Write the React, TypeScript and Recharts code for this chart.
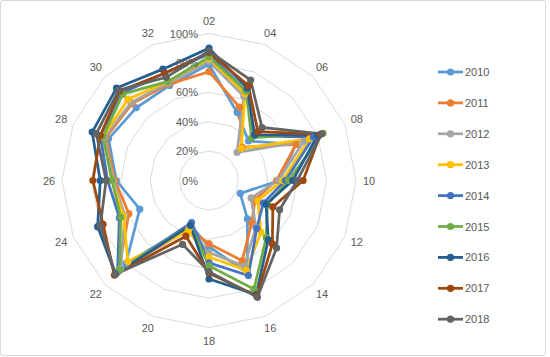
import React from 'react';
import { RadarChart, Radar, PolarGrid, PolarAngleAxis, PolarRadiusAxis, Legend } from 'recharts';

const categories = ['02', '04', '06', '08', '10', '12', '14', '16', '18', '20', '22', '24', '26', '28', '30', '32'];
const years = ['2010', '2011', '2012', '2013', '2014', '2015', '2016', '2017', '2018'];
const colors = ['#5B9BD5', '#ED7D31', '#A5A5A5', '#FFC000', '#4472C4', '#70AD47', '#255E91', '#9E480E', '#636363'];
const radiusTicks = [0, 0.2, 0.4, 0.6, 0.8, 1];

const v2010 = [0.79, 0.50, 0.38, 0.64, 0.48, 0.23, 0.37, 0.68, 0.45, 0.33, 0.80, 0.51, 0.63, 0.74, 0.70, 0.70];
const v2011 = [0.74, 0.54, 0.32, 0.64, 0.46, 0.34, 0.41, 0.59, 0.43, 0.36, 0.87, 0.59, 0.64, 0.76, 0.74, 0.71];
const v2012 = [0.81, 0.62, 0.27, 0.70, 0.47, 0.31, 0.45, 0.63, 0.49, 0.35, 0.85, 0.62, 0.65, 0.77, 0.75, 0.72];
const v2013 = [0.83, 0.64, 0.31, 0.74, 0.50, 0.36, 0.50, 0.66, 0.52, 0.37, 0.78, 0.63, 0.66, 0.78, 0.78, 0.73];
const v2014 = [0.86, 0.66, 0.43, 0.77, 0.52, 0.40, 0.46, 0.70, 0.56, 0.31, 0.88, 0.66, 0.69, 0.80, 0.84, 0.79];
const v2015 = [0.84, 0.66, 0.41, 0.84, 0.54, 0.43, 0.55, 0.80, 0.58, 0.33, 0.86, 0.65, 0.66, 0.78, 0.83, 0.73];
const v2016 = [0.90, 0.68, 0.44, 0.80, 0.57, 0.42, 0.57, 0.84, 0.67, 0.33, 0.90, 0.82, 0.74, 0.86, 0.89, 0.82];
const v2017 = [0.87, 0.70, 0.47, 0.82, 0.64, 0.47, 0.61, 0.85, 0.63, 0.41, 0.91, 0.78, 0.79, 0.80, 0.86, 0.79];
const v2018 = [0.88, 0.74, 0.51, 0.83, 0.60, 0.52, 0.65, 0.86, 0.62, 0.47, 0.90, 0.80, 0.70, 0.83, 0.87, 0.76];

const seriesValues = [v2010, v2011, v2012, v2013, v2014, v2015, v2016, v2017, v2018];

const data = categories.map((c, i) => {
  const row: Record<string, any> = { cat: c };
  years.forEach((y, k) => {
    row[y] = seriesValues[k][i];
  });
  return row;
});

const CX = 209;
const CY = 180.5;
const R = 147;
const FONT = '"Liberation Sans", Arial, sans-serif';
const TEXT = '#595959';

const AngleTick = (props: any) => {
  const { payload } = props;
  const ang = (payload.coordinate * Math.PI) / 180;
  const r = R + 13;
  const x = CX + r * Math.cos(-ang);
  const y = CY + r * Math.sin(-ang);
  return (
    <text x={x} y={y} textAnchor="middle" dominantBaseline="central" fontSize={11} fontFamily={FONT} fill={TEXT}>
      {payload.value}
    </text>
  );
};

const RadiusTick = (props: any) => {
  const { x, y, payload } = props;
  return (
    <text x={x - 11} y={y} textAnchor="end" dominantBaseline="central" fontSize={11} fontFamily={FONT} fill={TEXT}>
      {Math.round(payload.value * 100) + '%'}
    </text>
  );
};

const makeDot = (color: string) => (p: any) => (
  <circle key={`d-${color}-${p.index}`} cx={p.cx} cy={p.cy} r={3.6} fill={color} stroke="none" />
);

const LegendContent = () => (
  <svg width={90} height={280}>
    {years.map((y, i) => {
      const yy = 12 + i * 30.9;
      return (
        <g key={y}>
          <line x1={2} x2={27} y1={yy} y2={yy} stroke={colors[i]} strokeWidth={2.75} />
          <circle cx={14.5} cy={yy} r={3.6} fill={colors[i]} />
          <text x={29} y={yy} dominantBaseline="central" fontSize={11} fontFamily={FONT} fill={TEXT}>
            {y}
          </text>
        </g>
      );
    })}
  </svg>
);

export default function App() {
  return (
    <div style={{ position: 'absolute', left: 0, top: 0, width: 550, height: 357, background: '#fff' }}>
      <div
        style={{
          position: 'absolute',
          left: 0,
          top: 0,
          width: 544,
          height: 354,
          border: '1px solid #D9D9D9',
          borderRadius: 3,
        }}
      />
      <RadarChart width={550} height={357} data={data} cx={CX} cy={CY} outerRadius={R} startAngle={90} endAngle={-270}>
        <PolarGrid gridType="polygon" radialLines={false} stroke="#D9D9D9" strokeWidth={1} />
        <PolarAngleAxis dataKey="cat" tick={AngleTick} axisLine={false} tickLine={false} />
        <PolarRadiusAxis
          angle={90}
          domain={[0, 1]}
          ticks={radiusTicks}
          tick={RadiusTick}
          axisLine={false}
          tickLine={false}
        />
        {years.map((y, i) => (
          <Radar
            key={y}
            name={y}
            dataKey={y}
            stroke={colors[i]}
            strokeWidth={2.75}
            fill="none"
            fillOpacity={0}
            dot={makeDot(colors[i])}
            isAnimationActive={false}
          />
        ))}
        <Legend
          content={LegendContent}
          wrapperStyle={{ position: 'absolute', left: 436, top: 60, width: 90, height: 280 }}
        />
      </RadarChart>
    </div>
  );
}
